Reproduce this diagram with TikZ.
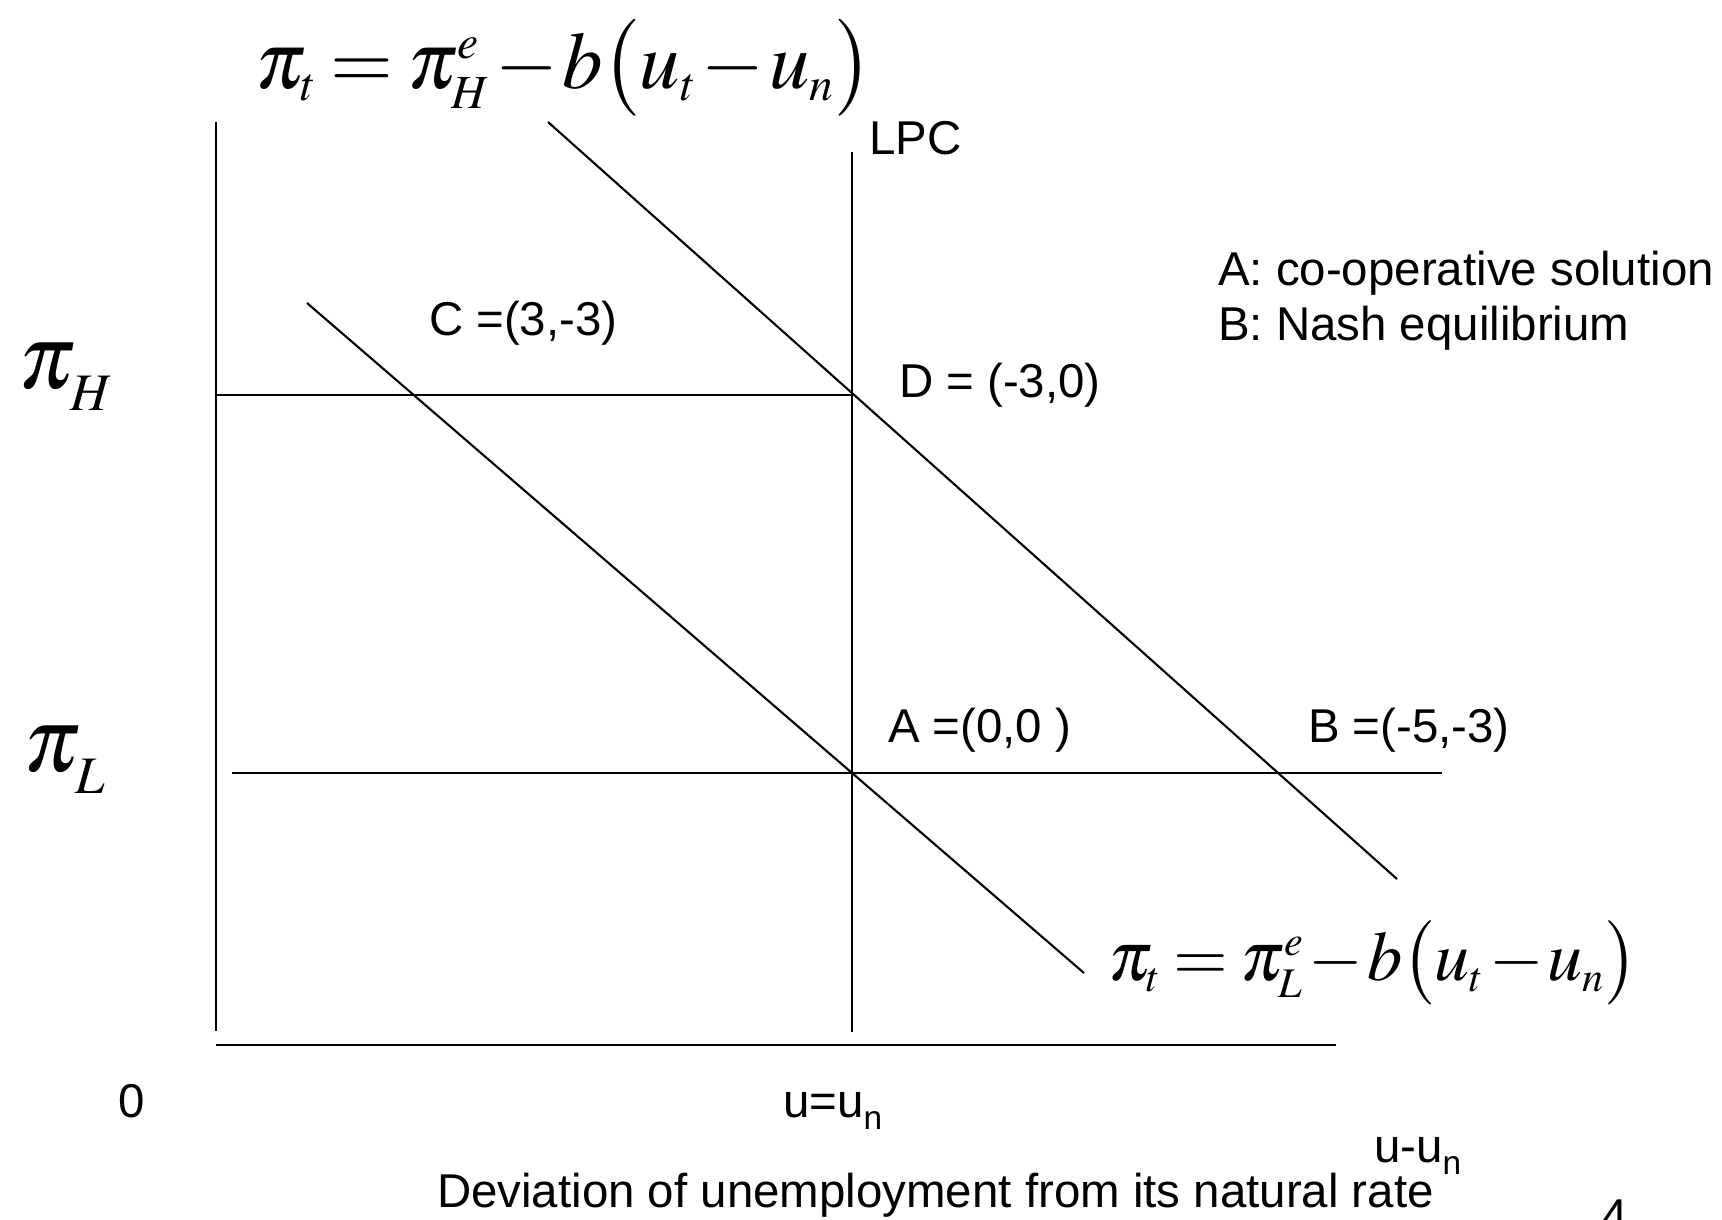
\documentclass[tikz,border=0pt]{standalone}
\usepackage{mathptmx}
\usepackage[no-math]{fontspec}
\setmainfont{Liberation Sans}
\DeclareMathSizes{23}{23}{13.5}{10}
\DeclareMathSizes{20}{20}{12}{9}
\DeclareMathSizes{26}{26}{15}{11}

\newcommand{\pceq}[1]{\thickmuskip=3mu\relax\medmuskip=1mu\relax
    $\pi_t = \pi^{e}_{#1} - b\bigl(u_t - u_n\bigr)$}
\newcommand{\pilab}[1]{$\pi$\kern-1.5pt\raisebox{-6.5pt}{\fontsize{15}{17}\selectfont$#1$}}
\newcommand{\subn}{\raisebox{-3.5pt}{\fontsize{9.5}{10}\selectfont n}}

\begin{document}
\begin{tikzpicture}[x=0.1mm, y=-0.1mm, line width=0.6pt,
    txt/.style={font=\fontsize{13.5}{16}\selectfont, inner sep=0pt, anchor=base west},
    bigeq/.style={font=\fontsize{23}{27}\selectfont, inner sep=0pt},
    pilbl/.style={font=\fontsize{26}{30}\selectfont, inner sep=0pt, anchor=base west}]

    \useasboundingbox (0,0) rectangle (1722,1219);

    % ── Points ──────────────────────────────────────────────────────────────
    \coordinate (Ytop)  at (216,122);
    \coordinate (Ybot)  at (216,1031);
    \coordinate (Xl)    at (216,1045);
    \coordinate (Xr)    at (1336,1045);
    \coordinate (LPCt)  at (852,152);
    \coordinate (LPCb)  at (852,1032);
    \coordinate (Hl)    at (216,395);
    \coordinate (D)     at (852,395);
    \coordinate (Ll)    at (232,773);
    \coordinate (Lr)    at (1442,773);
    \coordinate (Hs)    at (548,122);
    \coordinate (He)    at (1397,879);
    \coordinate (Ls)    at (307,303);
    \coordinate (Le)    at (1084,973);

    % ── Axes ────────────────────────────────────────────────────────────────
    \draw (Ytop) -- (Ybot);
    \draw[line width=0.8pt] (Xl) -- (Xr);

    % ── LPC and inflation levels ────────────────────────────────────────────
    \draw (LPCt) -- (LPCb);
    \draw (Hl) -- (D);
    \draw (Ll) -- (Lr);

    % ── Short-run Phillips curves ───────────────────────────────────────────
    \draw (Hs) -- (He);
    \draw (Ls) -- (Le);

    % ── Equations ───────────────────────────────────────────────────────────
    \node[bigeq] (eqH) at (564,68) {\pceq{H}};
    \node[bigeq, font=\fontsize{20}{24}\selectfont] (eqL) at (1373,963) {\pceq{L}};

    \node[pilbl] (piH) at (17,388) {\pilab{H}};
    \node[pilbl] (piL) at (22,771) {\pilab{L}};

    % ── Labels ──────────────────────────────────────────────────────────────
    \node[txt] (lpc)  at (868,154)  {LPC};
    \node[txt] (keyA) at (1217,285) {A: co-operative solution};
    \node[txt] (keyB) at (1217,340) {B: Nash equilibrium};
    \node[txt] (labC) at (428,335)  {C =(3,-3)};
    \node[txt] (labD) at (898,397)  {D = (-3,0)};
    \node[txt] (labA) at (887,742)  {A =(0,0 )};
    \node[txt] (labB) at (1307,742) {B =(-5,-3)};
    \node[txt] (zero) at (117,1117) {0};
    \node[txt] (un)   at (782,1117) {u=u\subn};
    \node[txt] (dev)  at (1373,1162) {u-u\subn};
    \node[txt] (xlab) at (436,1207) {Deviation of unemployment from its natural rate};
    \node[txt] (pg)   at (1600,1232) {4};

\end{tikzpicture}
\end{document}
